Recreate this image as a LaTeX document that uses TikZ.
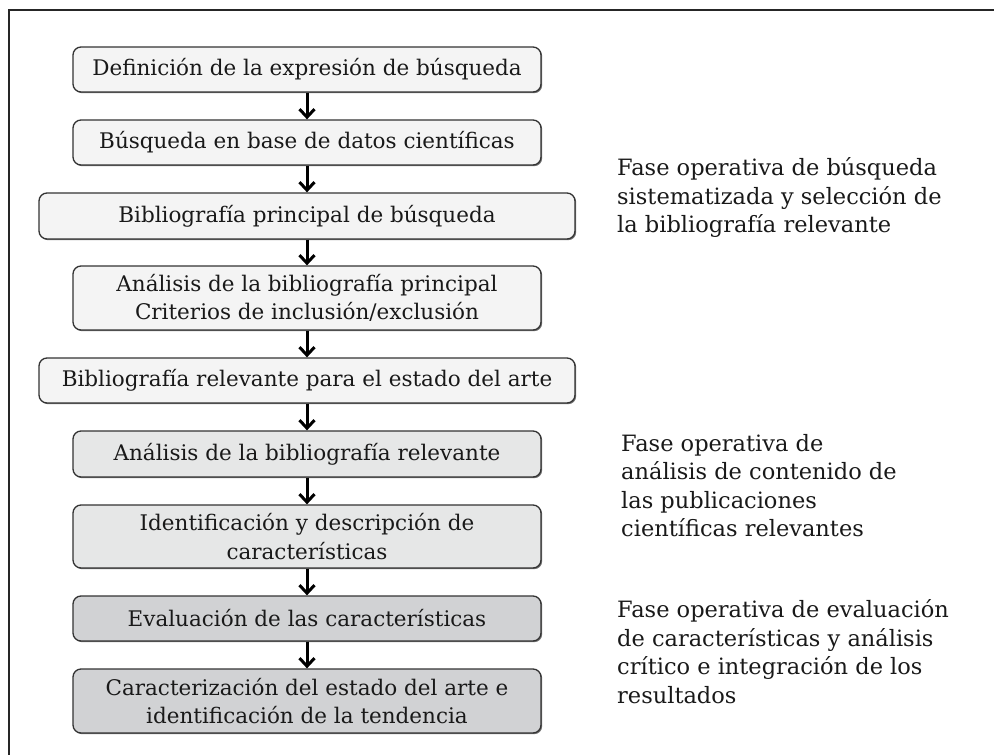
\documentclass[tikz,border=0pt]{standalone}
\usepackage{fontspec}
\setmainfont{DejaVu Serif}
\usetikzlibrary{arrows.meta,shadows}
\definecolor{fillA}{HTML}{F4F4F4}
\definecolor{fillB}{HTML}{E6E7E7}
\definecolor{fillC}{HTML}{D1D2D4}
\definecolor{edge}{HTML}{333333}
\tikzset{
  stepbox/.style={draw=edge, line width=1.3pt, rounded corners=8pt, align=center,
    inner sep=0pt, minimum width=468pt, text=black!90,
    font=\fontsize{21.5}{28.5}\selectfont,
    drop shadow={shadow xshift=1.2pt, shadow yshift=-1.2pt, fill=black, opacity=0.55}},
  widebox/.style={stepbox, minimum width=536pt},
  flow/.style={line width=3pt, -{Straight Barb[length=8pt,width=15pt,line width=3pt]}},
  phase/.style={anchor=west, align=left, inner sep=0pt, text=black!90,
    font=\fontsize{22.5}{28.5}\selectfont},
  frameline/.style={line width=1.5pt, draw=black!85}
}
\begin{document}
\begin{tikzpicture}[x=1pt,y=-1pt]
\useasboundingbox (0,0) rectangle (994,755);
\draw[frameline] (9,800) |- (1010,10);

\node[stepbox, fill=fillA, minimum height=45pt] (b1) at (307,69.5) {Definición de la expresión de búsqueda};
\node[stepbox, fill=fillA, minimum height=45pt] (b2) at (307,142.5) {Búsqueda en base de datos científicas};
\node[widebox, fill=fillA, minimum height=46pt] (b3) at (307,216) {Bibliografía principal de búsqueda};
\node[stepbox, fill=fillA, minimum height=64pt] (b4) at (307,298) {Análisis de la bibliografía principal\\Criterios de inclusión/exclusión};
\node[widebox, fill=fillA, minimum height=45pt] (b5) at (307,380.5) {Bibliografía relevante para el estado del arte};
\node[stepbox, fill=fillB, minimum height=46pt] (b6) at (307,454) {Análisis de la bibliografía relevante};
\node[stepbox, fill=fillB, minimum height=63pt] (b7) at (307,536.5) {Identificación y descripción de\\características};
\node[stepbox, fill=fillC, minimum height=45pt] (b8) at (307,618.5) {Evaluación de las características};
\node[stepbox, fill=fillC, minimum height=64pt] (b9) at (307,701) {Caracterización del estado del arte e\\identificación de la tendencia};

\draw[flow] (b1.south) -- (b2.north);
\draw[flow] (b2.south) -- (b3.north);
\draw[flow] (b3.south) -- (b4.north);
\draw[flow] (b4.south) -- (b5.north);
\draw[flow] (b5.south) -- (b6.north);
\draw[flow] (b6.south) -- (b7.north);
\draw[flow] (b7.south) -- (b8.north);
\draw[flow] (b8.south) -- (b9.north);

\node[phase] (p1) at (617,197.5) {Fase operativa de búsqueda\\sistematizada y selección de\\la bibliografía relevante};
\node[phase] (p2) at (621,485.5) {Fase operativa de\\análisis de contenido de\\las publicaciones\\científicas relevantes};
\node[phase] (p3) at (617,651.5) {Fase operativa de evaluación\\de características y análisis\\crítico e integración de los\\resultados};
\end{tikzpicture}
\end{document}
